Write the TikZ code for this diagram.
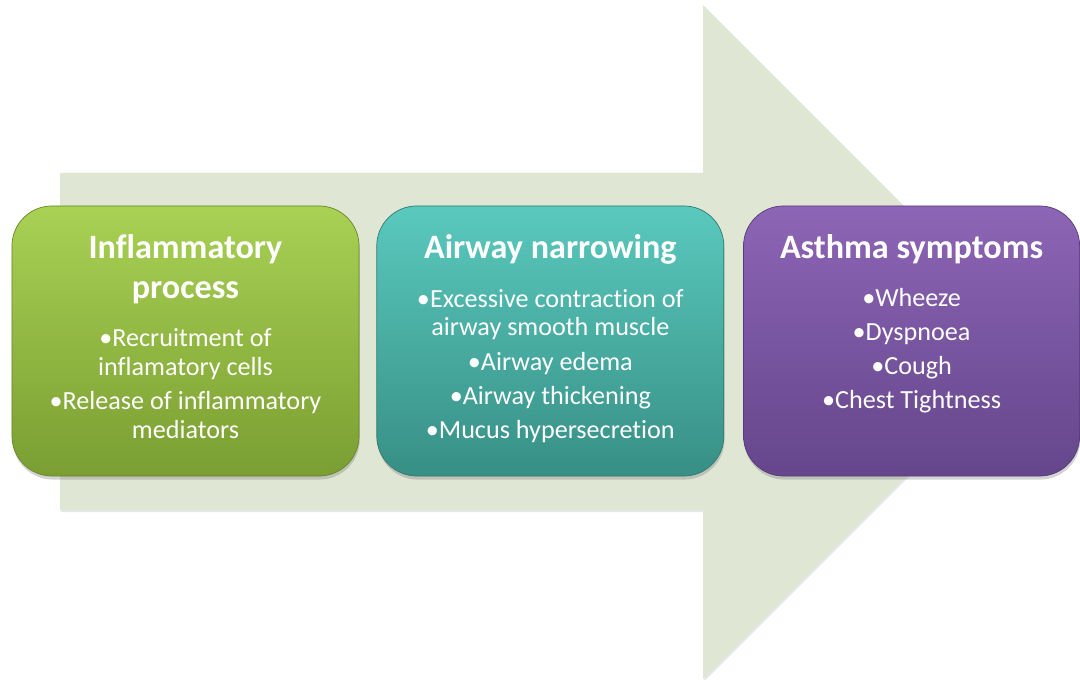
\documentclass[tikz,border=0pt]{standalone}
\usepackage{fontspec}
\setmainfont{Carlito}[Ligatures={NoCommon}]
\usetikzlibrary{positioning,shadows}
\definecolor{nenmui}{RGB}{223,230,211}
\definecolor{xanhla1}{RGB}{169,209,84}
\definecolor{xanhla2}{RGB}{122,158,50}
\definecolor{xanhngoc1}{RGB}{90,201,190}
\definecolor{xanhngoc2}{RGB}{55,143,133}
\definecolor{tim1}{RGB}{141,101,182}
\definecolor{tim2}{RGB}{101,70,139}
\tikzset{
	hop/.style={rounded corners=1cm, minimum width=8.675cm, minimum height=6.75cm,
		line width=0.5pt, drop shadow={shadow xshift=0.5pt, shadow yshift=-2.5pt, opacity=0.35}},
	hopxanh/.style={hop, draw=xanhla2!85!black, top color=xanhla1, bottom color=xanhla2},
	hopngoc/.style={hop, draw=xanhngoc2!85!black, top color=xanhngoc1, bottom color=xanhngoc2},
	hoptim/.style={hop, draw=tim2!85!black, top color=tim1, bottom color=tim2, minimum width=8.4cm},
	tieude/.style={text=white, font=\bfseries\fontsize{24.3}{28.5}\selectfont, align=center, inner sep=0pt},
	noidung/.style={text=white, font=\fontsize{18.6}{20.6}\selectfont, align=center, inner sep=0pt}
}
\begin{document}
\begin{tikzpicture}[x=0.025cm, y=0.025cm]
	\useasboundingbox (0,0) rectangle (1080,679);
	\path
	%	mui ten nen
	(60,506) coordinate (A)
	(703,506) coordinate (B)
	(703,674) coordinate (C)
	(1040,337) coordinate (D)
	(703,0) coordinate (E)
	(703,169) coordinate (F)
	(60,169) coordinate (G)
	;
	\fill[nenmui, drop shadow={shadow xshift=1pt, shadow yshift=-1.5pt, opacity=0.2}]
	(A)--(B)--(C)--(D)--(E)--(F)--(G)--cycle;
	
	\node[hopxanh] (viem) at (185.5,338) {};
	\node[hopngoc, right=0.425cm of viem] (hep) {};
	\node[hoptim, right=0.475cm of hep] (trieuchung) {};
	
	\node[tieude, below=0.72cm of viem.north] (viemtd) {Inflammatory\\process};
	\node[noidung, below=0.6cm of viemtd] (viemnd)
	{•Recruitment of\\inflamatory cells\\[3.6pt]•Release of inflammatory\\mediators};
	
	\node[tieude, below=0.72cm of hep.north] (heptd) {Airway narrowing};
	\node[noidung, below=0.6cm of heptd] (hepnd)
	{•Excessive contraction of\\airway smooth muscle\\[3.6pt]•Airway edema\\[3.6pt]•Airway thickening\\[3.6pt]•Mucus hypersecretion};
	
	\node[tieude, below=0.72cm of trieuchung.north] (tctd) {Asthma symptoms};
	\node[noidung, below=0.6cm of tctd] (tcnd)
	{•Wheeze\\[3.6pt]•Dyspnoea\\[3.6pt]•Cough\\[3.6pt]•Chest Tightness};
\end{tikzpicture}
\end{document}
